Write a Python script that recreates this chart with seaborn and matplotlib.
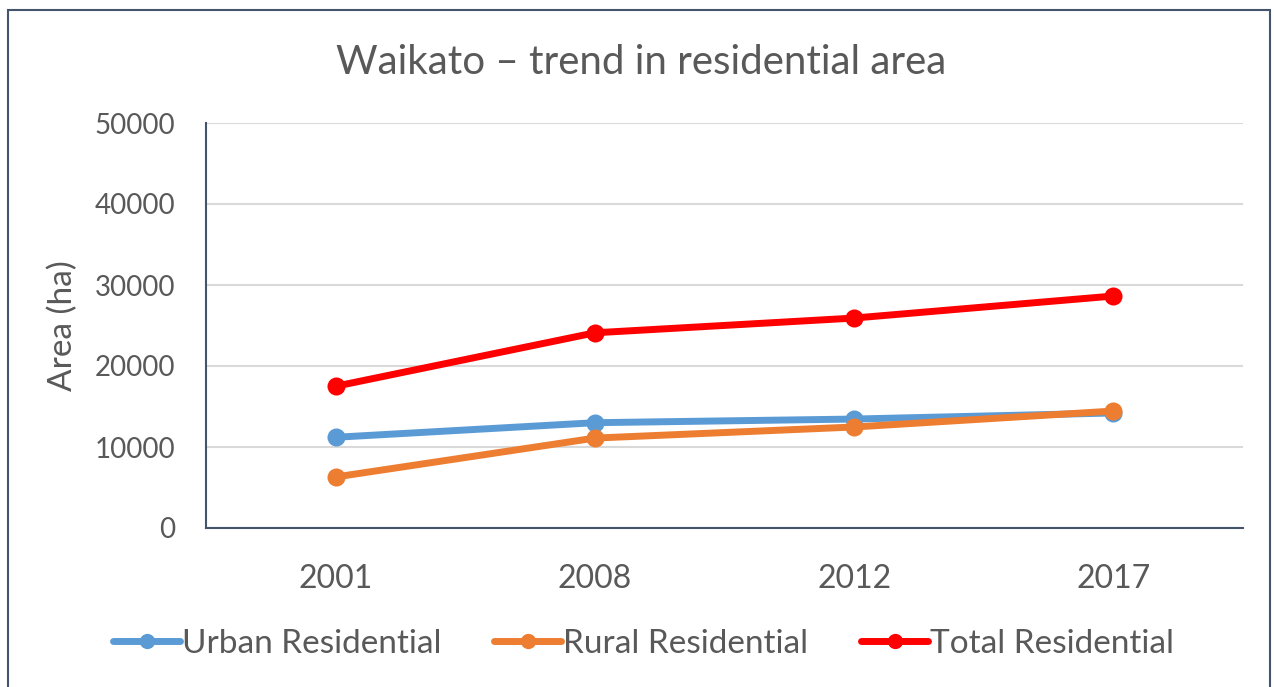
import pandas as pd
import matplotlib.pyplot as plt
import seaborn as sns
from matplotlib.patches import Rectangle

# chart data
years = ['2001', '2008', '2012', '2017']
urban = [11200, 13000, 13450, 14200]
rural = [6300, 11100, 12470, 14440]
total = [17500, 24100, 25920, 28640]
series_names = ['Urban Residential', 'Rural Residential', 'Total Residential']
colors = ['#5B9BD5', '#ED7D31', '#FF0000']

df = pd.DataFrame({
    'Year': years * 3,
    'Area': urban + rural + total,
    'Series': [series_names[0]] * 4 + [series_names[1]] * 4 + [series_names[2]] * 4,
})

sns.set_style('white')
plt.rcParams['font.family'] = ['Lato', 'DejaVu Sans']
text_col = '#595959'

fig = plt.figure(figsize=(12.74, 6.87), dpi=100)
ax = fig.add_axes([206 / 1274, 1 - 528 / 687, (1243 - 206) / 1274, (528 - 123) / 687])

sns.lineplot(data=df, x='Year', y='Area', hue='Series', palette=colors, sort=False,
             marker='o', markersize=13, markeredgewidth=0, linewidth=5,
             legend=False, ax=ax)

ax.set_xlim(-0.5, 3.5)
ax.set_ylim(0, 50000)
ax.set_yticks(range(0, 50001, 10000))
ax.yaxis.grid(True, color='#D9D9D9', linewidth=1.5)
ax.set_axisbelow(True)
ax.set_xlabel('')
ax.set_ylabel('Area (ha)', fontsize=24, color=text_col, labelpad=12)
ax.tick_params(axis='both', colors=text_col, length=0)
ax.tick_params(axis='x', labelsize=23, pad=26)
ax.tick_params(axis='y', labelsize=20, pad=22)
for side in ['top', 'right']:
    ax.spines[side].set_visible(False)
for side in ['left', 'bottom']:
    ax.spines[side].set_color('#44546A')
    ax.spines[side].set_linewidth(1.5)

fig.text(0.503, 1 - 62 / 687, 'Waikato \u2013 trend in residential area', ha='center', va='center',
         fontsize=29, color=text_col)

handles = [plt.Line2D([], [], color=c, marker='o', markersize=11, markeredgewidth=0, linewidth=5)
           for c in colors]
leg = fig.legend(handles, series_names, loc='center', bbox_to_anchor=(0.505, 1 - 644 / 687), ncol=3,
                 frameon=False, fontsize=24, handlelength=2.0, handletextpad=0.05, columnspacing=1.6)
for t in leg.get_texts():
    t.set_color(text_col)

# outer chart border
fig.patches.append(Rectangle((8 / 1274, -0.05), (1270 - 8) / 1274, 1 - 10 / 687 + 0.05,
                             transform=fig.transFigure, fill=False, edgecolor='#44546A', linewidth=1.5))

fig.savefig('out.png', dpi=100)
